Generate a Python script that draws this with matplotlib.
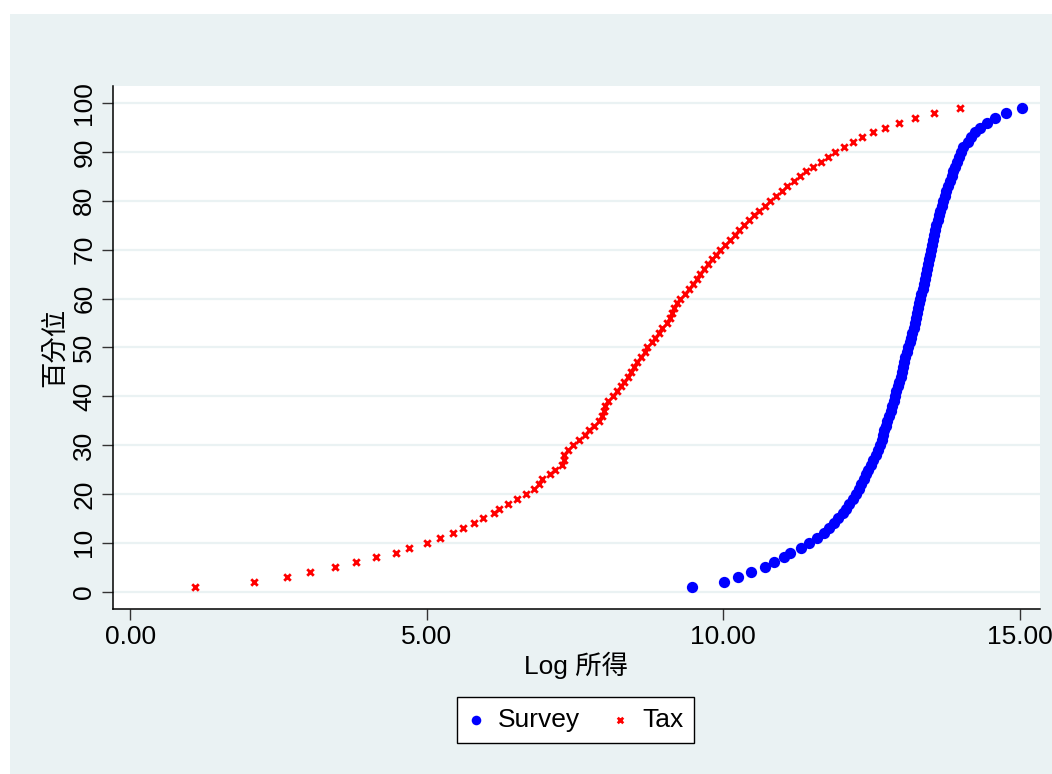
import matplotlib
matplotlib.use("Agg")
import matplotlib.pyplot as plt
from matplotlib.patches import Rectangle

# ---- data ----
percentiles = list(range(1, 100))

survey_log_income = [
    9.47, 10.01, 10.24, 10.46, 10.71, 10.86, 11.03, 11.13, 11.31, 11.45,
    11.58, 11.69, 11.78, 11.86, 11.94, 12.01, 12.07, 12.12, 12.18, 12.23,
    12.28, 12.33, 12.37, 12.40, 12.44, 12.49, 12.53, 12.57, 12.61, 12.65,
    12.67, 12.69, 12.71, 12.74, 12.76, 12.79, 12.82, 12.85, 12.87, 12.90,
    12.92, 12.94, 12.96, 12.99, 13.01, 13.03, 13.05, 13.07, 13.09, 13.12,
    13.14, 13.16, 13.18, 13.21, 13.23, 13.25, 13.27, 13.29, 13.30, 13.32,
    13.34, 13.36, 13.38, 13.40, 13.42, 13.44, 13.45, 13.47, 13.48, 13.50,
    13.52, 13.54, 13.56, 13.57, 13.59, 13.62, 13.64, 13.66, 13.68, 13.71,
    13.73, 13.76, 13.79, 13.82, 13.85, 13.88, 13.91, 13.94, 13.98, 14.01,
    14.05, 14.12, 14.18, 14.25, 14.33, 14.44, 14.58, 14.77, 15.03,
]

tax_log_income = [
    1.10, 2.08, 2.64, 3.04, 3.46, 3.81, 4.14, 4.48, 4.70, 5.01,
    5.23, 5.45, 5.61, 5.79, 5.95, 6.14, 6.22, 6.37, 6.53, 6.68,
    6.80, 6.90, 6.94, 7.08, 7.17, 7.28, 7.31, 7.32, 7.38, 7.46,
    7.57, 7.66, 7.74, 7.82, 7.90, 7.95, 7.99, 8.01, 8.05, 8.14,
    8.21, 8.27, 8.33, 8.39, 8.45, 8.50, 8.55, 8.62, 8.68, 8.72,
    8.79, 8.85, 8.91, 8.97, 9.05, 9.10, 9.13, 9.17, 9.22, 9.27,
    9.36, 9.42, 9.49, 9.56, 9.61, 9.68, 9.75, 9.81, 9.88, 9.95,
    10.03, 10.12, 10.19, 10.27, 10.35, 10.44, 10.52, 10.61, 10.71, 10.79,
    10.89, 10.99, 11.08, 11.19, 11.29, 11.40, 11.51, 11.64, 11.76, 11.89,
    12.04, 12.18, 12.34, 12.52, 12.73, 12.97, 13.23, 13.55, 13.99,
]

x_ticks = [0, 5, 10, 15]
x_tick_labels = ["0.00", "5.00", "10.00", "15.00"]
y_ticks = list(range(0, 101, 10))
series_names = ["Survey", "Tax"]
x_label = "Log 所得"
y_label = "百分位"

# ---- style ----
FONT = ["Liberation Sans", "Noto Sans CJK TC", "DejaVu Sans"]
plt.rcParams["font.family"] = FONT
BG = "#EAF2F3"
FS = 19

W, H = 1052, 774
fig = plt.figure(figsize=(W / 100, H / 100), dpi=100)
fig.patch.set_facecolor("white")
bg_rect = Rectangle((10 / W, 0), 1 - 10 / W, 1 - 14 / H,
                    transform=fig.transFigure, facecolor=BG,
                    edgecolor="none", zorder=-10)
fig.patches.append(bg_rect)

ax = fig.add_axes([113 / W, 1 - 608.5 / H, (1040 - 113) / W, (608.5 - 86) / H])
ax.set_zorder(1)
ax.set_facecolor("white")

ax.scatter(survey_log_income, percentiles, s=66, color="#0000FF",
           marker="o", linewidths=0, zorder=3, label=series_names[0])
ax.scatter(tax_log_income, percentiles, s=22, color="#FF0000",
           marker="x", linewidths=2.0, zorder=3, label=series_names[1])

ax.set_xlim(-0.29, 15.34)
ax.set_ylim(-3.45, 103.5)
ax.set_xticks(x_ticks)
ax.set_xticklabels(x_tick_labels)
ax.set_yticks(y_ticks)
ax.set_yticklabels([str(v) for v in y_ticks], rotation=90, va="center")

ax.grid(axis="y", color=BG, linewidth=1.6, zorder=1)
ax.grid(axis="x", visible=False)
ax.set_axisbelow(True)
for s in ["top", "right"]:
    ax.spines[s].set_visible(False)
for s in ["left", "bottom"]:
    ax.spines[s].set_color("#000000")
    ax.spines[s].set_linewidth(1.1)
ax.tick_params(axis="both", direction="out", length=8, width=1.0,
               color="#333333", labelsize=FS, labelcolor="black", pad=4)

ax.set_xlabel(x_label, fontsize=FS, labelpad=2)
ax.set_ylabel(y_label, fontsize=FS, labelpad=4)

leg = fig.legend(loc="center", bbox_to_anchor=(575.5 / W, 1 - 720 / H),
                 ncol=2, frameon=True, fancybox=False, fontsize=FS,
                 markerscale=0.85, handletextpad=0.55, columnspacing=1.2,
                 borderpad=0.42, handlelength=0.6, framealpha=1.0)
leg.get_frame().set_edgecolor("black")
leg.get_frame().set_linewidth(1.0)
leg.get_frame().set_facecolor("white")
leg.set_zorder(5)

fig.savefig("out.png", dpi=100, facecolor=fig.get_facecolor())
